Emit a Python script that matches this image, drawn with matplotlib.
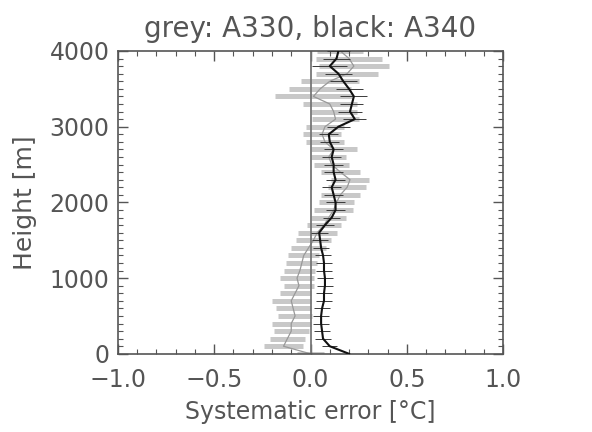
import numpy as np
import matplotlib
matplotlib.use("Agg")
import matplotlib.pyplot as plt
from matplotlib.ticker import MultipleLocator

# heights [m], every 100 m
height = np.arange(0, 4001, 100)

# A330 (grey): mean systematic error and spread
a330_mean = [0.00, -0.14, -0.12, -0.10, -0.10, -0.08, -0.09, -0.10, -0.08, -0.06,
             -0.07, -0.055, -0.045, -0.035, -0.01, 0.015, 0.035, 0.07, 0.095, 0.12,
             0.135, 0.155, 0.19, 0.205, 0.155, 0.11, 0.095, 0.12, 0.075, 0.06,
             0.075, 0.13, 0.12, 0.10, 0.015, 0.05, 0.10, 0.19, 0.225, 0.20,
             0.155]
a330_err = [0.07, 0.10, 0.09, 0.09, 0.10, 0.09, 0.09, 0.10, 0.08, 0.08,
            0.09, 0.08, 0.08, 0.08, 0.09, 0.09, 0.10, 0.09, 0.09, 0.10,
            0.09, 0.10, 0.10, 0.10, 0.10, 0.09, 0.09, 0.12, 0.10, 0.10,
            0.10, 0.12, 0.12, 0.14, 0.20, 0.16, 0.15, 0.16, 0.18, 0.17,
            0.12]

# A340 (black)
a340_mean = [0.20, 0.10, 0.065, 0.06, 0.055, 0.055, 0.06, 0.07, 0.07, 0.075,
             0.075, 0.07, 0.07, 0.065, 0.055, 0.05, 0.045, 0.075, 0.11, 0.13,
             0.13, 0.12, 0.11, 0.13, 0.12, 0.12, 0.11, 0.12, 0.10, 0.095,
             0.145, 0.23, 0.205, 0.215, 0.225, 0.20, 0.17, 0.145, 0.10, 0.135,
             0.145]
a340_err = [0.04, 0.04, 0.04, 0.04, 0.04, 0.04, 0.04, 0.04, 0.04, 0.04,
            0.04, 0.04, 0.04, 0.04, 0.04, 0.04, 0.045, 0.045, 0.045, 0.05,
            0.05, 0.05, 0.05, 0.05, 0.05, 0.05, 0.05, 0.05, 0.05, 0.05,
            0.06, 0.06, 0.06, 0.06, 0.07, 0.07, 0.07, 0.07, 0.09, 0.07,
            0.06]

txt = "#555555"
plt.rcParams['font.family'] = ['DejaVu Sans']

fig = plt.figure(figsize=(5.92, 4.32), dpi=100)
ax = fig.add_axes([0.199, 0.181, 0.651, 0.701])

# grey: A330
ax.errorbar(a330_mean, height, xerr=a330_err, fmt="none", ecolor="#c8c8c8",
            elinewidth=3.6, capsize=0, zorder=1)
ax.plot(a330_mean, height, color="#999999", lw=0.9, zorder=2)

# black: A340
ax.errorbar(a340_mean, height, xerr=a340_err, fmt="none", ecolor="#3a3a3a",
            elinewidth=0.7, capsize=0, zorder=3)
ax.plot(a340_mean, height, color="#111111", lw=1.5, zorder=4)

ax.axvline(0, color="#777777", lw=1.3, zorder=2.5)

ax.set_xlim(-1.0, 1.0)
ax.set_ylim(0, 4000)
ax.xaxis.set_major_locator(MultipleLocator(0.5))
ax.xaxis.set_minor_locator(MultipleLocator(0.1))
ax.yaxis.set_major_locator(MultipleLocator(1000))
ax.yaxis.set_minor_locator(MultipleLocator(100))
ax.xaxis.set_major_formatter(plt.FuncFormatter(lambda v, p: f"{v:.1f}".replace("-", "\u2212")))

ax.tick_params(which="both", direction="in", top=True, right=True, colors="#555555",
               labelcolor=txt, labelsize=17)
ax.tick_params(which="major", length=7, width=1)
ax.tick_params(which="minor", length=3.5, width=0.8)
ax.tick_params(axis="x", pad=10)
ax.tick_params(axis="y", pad=6)
for s in ax.spines.values():
    s.set_color("#555555")
    s.set_linewidth(1.2)

ax.set_title("grey: A330, black: A340", fontsize=20, color=txt, pad=10)
ax.set_xlabel("Systematic error [°C]", fontsize=17, color=txt, labelpad=6)
ax.set_ylabel("Height [m]", fontsize=18, color=txt, labelpad=9)

fig.savefig("out.png", dpi=100)
